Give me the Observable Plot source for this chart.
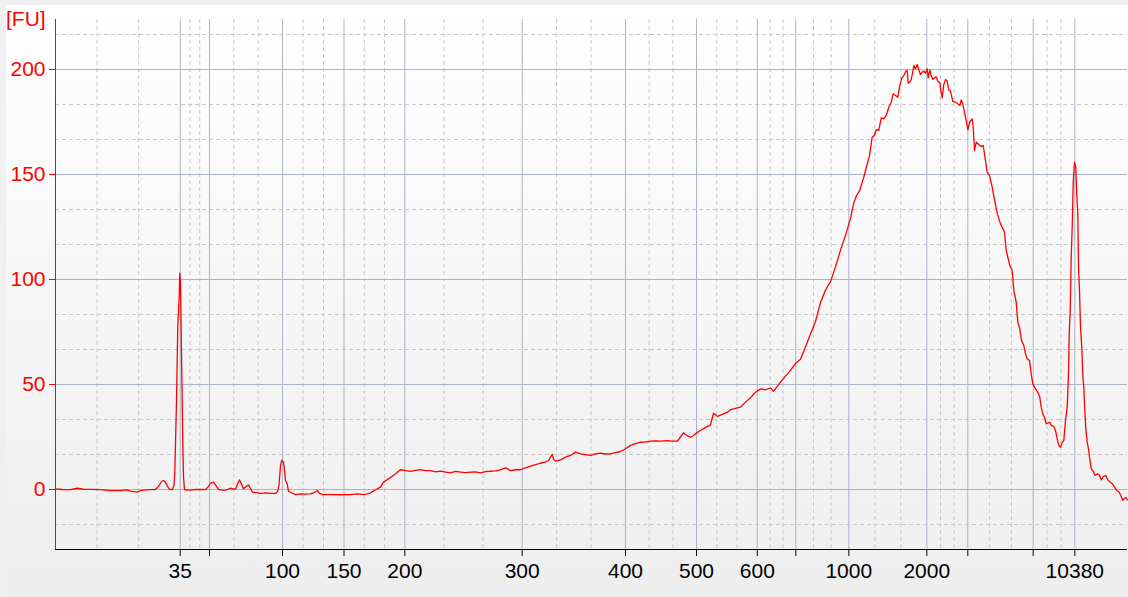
<!DOCTYPE html>
<html><head><meta charset="utf-8">
<script src="https://cdn.jsdelivr.net/npm/d3@7"></script>
<script src="https://cdn.jsdelivr.net/npm/@observablehq/plot@0.6"></script>
<style>
html,body{margin:0;padding:0;background:#f0f0f0;}
#wrap{position:relative;width:1128px;height:597px;overflow:hidden;background:#f0f0f0;font-family:"Liberation Sans",Arial,sans-serif;}
#panel{position:absolute;left:6px;top:5px;right:0;bottom:0;background:linear-gradient(to bottom,#ffffff 0%,#eeeeee 100%);}
#fu{position:absolute;left:6px;top:7px;color:#ff0000;font-size:21px;line-height:24px;}
#chart{position:absolute;left:0;top:0;}
</style></head><body>
<div id="wrap"><div id="panel"></div><div id="chart"></div><div id="fu">[FU]</div></div>
<script>
// Ladder fragment sizes (bp) and their migration times (s)
const ladderSizes = [35, 50, 100, 150, 200, 300, 400, 500, 600, 700, 1000, 2000, 3000, 7000, 10380];
const ladderTimes = [32.47, 35.4, 42.7, 48.85, 54.93, 66.67, 77.0, 84.1, 90.18, 94.03, 99.33, 107.13, 111.23, 117.77, 121.93];
const labeledSizes = [35, 100, 150, 200, 300, 400, 500, 600, 1000, 2000, 10380];
const fuTicks = [0, 50, 100, 150, 200];
const timeRange = [20, 127.2];
const fuRange = [-28.57, 223.8];

// Electropherogram trace: migration time (s) and fluorescence (FU)
const times = [20.0,20.7,21.5,22.2,22.9,23.5,24.5,25.5,26.5,27.1,27.5,28.2,28.5,29.0,29.5,30.0,30.3,30.6,30.8,31.0,31.2,31.4,31.7,31.85,31.93,32.1,32.23,32.37,32.43,32.5,32.57,32.67,32.73,32.8,32.9,33.2,33.5,34.0,34.5,35.0,35.3,35.5,35.8,36.1,36.3,36.7,37.0,37.5,38.0,38.2,38.4,38.6,38.8,39.1,39.3,39.5,39.7,40.1,40.5,41.0,41.5,42.0,42.2,42.35,42.5,42.63,42.8,42.9,43.0,43.17,43.3,43.5,44.0,44.5,45.0,45.5,45.9,46.17,46.4,46.7,47.5,48.5,49.5,50.2,50.8,51.2,51.5,52.0,52.5,52.8,53.5,54.0,54.5,55.0,55.5,56.0,56.5,57.0,57.5,58.0,58.5,59.0,59.5,60.0,60.5,61.0,61.5,62.0,62.5,63.0,63.5,64.0,64.5,65.0,65.5,66.0,66.5,67.0,67.5,68.0,68.5,69.0,69.3,69.67,69.8,70.0,70.5,71.0,71.5,72.0,72.5,73.0,73.5,74.0,74.5,75.0,75.5,76.0,76.5,77.0,77.5,78.0,78.5,79.0,79.5,80.0,80.5,81.2,81.7,82.2,82.5,82.8,83.2,83.5,83.8,84.2,84.5,85.0,85.5,85.8,86.2,86.5,86.8,87.2,87.5,88.0,88.5,89.0,89.5,90.0,90.5,91.0,91.5,91.8,92.2,92.5,93.0,93.5,94.0,94.5,95.0,95.5,96.0,96.5,97.0,97.5,98.0,98.5,99.0,99.5,99.8,100.1,100.43,100.67,100.83,101.0,101.17,101.4,101.67,101.9,102.07,102.33,102.57,102.83,103.07,103.33,103.57,103.77,104.0,104.23,104.4,104.6,104.83,105.03,105.17,105.27,105.43,105.57,105.7,105.83,106.0,106.17,106.33,106.5,106.67,106.83,107.0,107.17,107.27,107.43,107.57,107.73,107.9,108.07,108.23,108.43,108.57,108.67,108.83,109.0,109.17,109.33,109.5,109.73,110.0,110.23,110.43,110.57,110.73,110.9,111.07,111.23,111.43,111.67,111.77,111.9,112.07,112.33,112.57,112.77,112.93,113.17,113.4,113.67,113.9,114.2,114.5,114.67,114.9,115.07,115.23,115.43,115.67,115.83,116.07,116.23,116.43,116.6,116.83,117.0,117.17,117.4,117.57,117.73,118.0,118.23,118.43,118.57,118.73,118.9,119.07,119.23,119.43,119.57,119.83,120.0,120.17,120.33,120.5,120.67,120.83,121.0,121.17,121.3,121.37,121.47,121.57,121.67,121.77,121.9,122.03,122.13,122.23,122.3,122.4,122.5,122.63,122.73,122.83,122.93,123.03,123.17,123.3,123.4,123.57,123.73,123.97,124.2,124.4,124.57,124.8,125.03,125.23,125.47,125.7,125.9,126.13,126.37,126.57,126.73,126.83,127.03,127.2];
const fu = [0.3,0.0,-0.1,0.6,0.1,0.1,-0.1,-0.5,-0.5,-0.2,-0.8,-1.3,-0.5,-0.2,-0.1,0.0,1.5,3.8,4.3,3.5,1.5,0.1,0.0,2,8,42,78,92,103,99.5,74,42,22,6,0.0,-0.3,-0.3,0.0,0.0,-0.1,1.5,3.0,3.5,1.5,0.1,-0.3,-0.3,0.6,0.1,2.5,4.6,2.5,0.3,1.5,2.2,0.5,-1.3,-1.5,-1.8,-1.6,-1.8,-1.8,-1.0,2,11.4,14,13,9,4.3,2.7,-0.8,-1.3,-2.4,-2.1,-2.2,-2.1,-1.4,-0.6,-1.8,-2.4,-2.4,-2.5,-2.4,-2.1,-2.4,-2.1,-1.6,-0.1,1.1,3.5,5.7,7.5,9.4,9.0,8.6,9.1,9.5,9.0,9.0,8.4,8.7,8.3,7.9,8.6,8.3,8.0,8.3,8.4,7.9,8.5,8.7,8.9,9.3,10.3,9.0,9.4,9.4,10.3,11.1,11.8,12.5,13.1,13.8,16.7,14.5,13.5,14.1,15.4,16.2,17.8,17.0,16.6,16.2,17.0,17.3,16.9,17.0,17.6,18.1,19.4,21.0,21.8,22.5,22.6,23.0,23.2,23.0,23.3,23.0,23.1,25.0,27.0,25.5,24.9,25.7,27.2,28.1,29.6,30.8,36.3,34.8,35.4,36.0,36.8,38.0,38.6,39.2,41.6,43.7,46.3,47.9,47.5,48.4,46.8,49.2,51.1,54,56.7,60,62,68,74,80,89,95,99,106,114,121,129,136,140,142.4,146.3,148.7,151.9,155,159,167.8,168.6,171.3,171,177,176.5,178.1,182,184.4,188.4,187.6,186.8,191.6,195.6,197.1,199.2,199.5,193.5,194,195.1,198.2,201.9,200.3,202.4,199.8,197.6,198.7,199.2,198.2,200.3,196,199.8,197.1,195.2,196,196.5,194.4,193.7,188.9,186.5,192.8,195.2,194.5,190.3,189.7,184.8,184.4,183.6,182.8,185.5,183.6,179.6,175.7,171.3,175,176.5,172.5,161.4,165.4,164.3,163.3,163.8,158.7,151.1,149.5,144,138,131,126.5,124.9,122.5,113.8,110.6,106.7,104.3,94.8,89.2,79.7,76.5,71,68.6,64.6,62.2,61.4,55.1,50.3,47.9,46.3,44,39.2,36,34.4,31.3,31.6,32,30.5,30,28.1,24.1,21,20.1,22.5,23.3,32.9,39.2,55.1,74.1,85.2,110.6,124.9,146,155.9,153.2,140,131.3,106,94.8,77.3,67.8,54.3,48.7,37.6,28.9,22.5,19.4,15.4,9.9,9.0,6.7,7.5,6.7,4.6,6.2,6.7,4.6,3.5,2.7,1.1,-0.5,-1.3,-3.3,-5.2,-4.4,-3.9,-4.9];

const curve = times.map((t, i) => ({t, fu: fu[i]}));

// Minor (dashed) grid: thirds between consecutive major lines
const xBounds = [timeRange[0], ...ladderTimes];
const minorX = [];
for (let i = 0; i < xBounds.length - 1; i++) {
  const a = xBounds[i], b = xBounds[i + 1];
  minorX.push(a + (b - a) / 3, a + 2 * (b - a) / 3);
}
const yStep = fuTicks[1] - fuTicks[0];
const minorY = [];
for (let v = fuTicks[0] - yStep; v <= fuTicks[fuTicks.length - 1] + yStep; v += yStep) {
  [v + yStep / 3, v + 2 * yStep / 3].forEach(m => { if (m > fuRange[0] && m < fuRange[1]) minorY.push(m); });
}

const labelMap = new Map(ladderTimes.map((t, i) => [t, labeledSizes.includes(ladderSizes[i]) ? String(ladderSizes[i]) : ""]));

const plot = Plot.plot({
  width: 1128, height: 597,
  marginLeft: 55, marginRight: 1, marginTop: 19, marginBottom: 48,
  style: {background: "transparent", fontFamily: "'Liberation Sans', Arial, sans-serif", fontSize: "21px"},
  x: {type: "linear", domain: timeRange},
  y: {domain: fuRange},
  marks: [
    Plot.ruleY(minorY, {stroke: "#c8c8c8", strokeDasharray: "4,3"}),
    Plot.ruleX(minorX, {stroke: "#c8c8c8", strokeDasharray: "4,3"}),
    Plot.ruleY(fuTicks, {stroke: "#aab4c6"}),
    Plot.ruleX(ladderTimes, {stroke: "#aab4c6"}),
    Plot.line(curve, {x: "t", y: "fu", stroke: "#ff0000", strokeWidth: 1.3}),
    Plot.ruleY([fuRange[0]], {stroke: "#000000"}),
    Plot.ruleX([timeRange[0]], {stroke: "#ff0000"}),
    Plot.axisY({ticks: fuTicks, tickSize: 6, tickPadding: 4, stroke: "#ff0000", fill: "#ff0000", label: null, fontSize: 21}),
    Plot.axisX({ticks: ladderTimes, tickFormat: d => labelMap.get(d) ?? "", tickSize: 7, tickPadding: 7, stroke: "#000000", fill: "#000000", label: null, fontSize: 21})
  ]
});
document.getElementById("chart").appendChild(plot);
</script>
</body></html>
